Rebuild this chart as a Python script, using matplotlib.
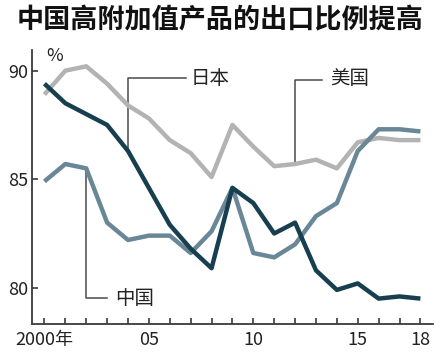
import matplotlib
matplotlib.use("Agg")
import matplotlib.pyplot as plt
from matplotlib import font_manager

plt.rcParams['font.family'] = ['Noto Sans CJK SC', 'DejaVu Sans']
names = sorted({f.name for f in font_manager.fontManager.ttflist})
print([n for n in names if 'Narrow' in n or 'Liberation' in n])

years = list(range(2000, 2019))
japan = [89.4, 88.5, 88.0, 87.5, 86.3, 84.6, 82.9, 81.8, 80.9, 84.6,
         83.9, 82.5, 83.0, 80.8, 79.9, 80.2, 79.5, 79.6, 79.5]
usa = [88.9, 90.0, 90.2, 89.4, 88.4, 87.8, 86.8, 86.2, 85.1, 87.5,
       86.5, 85.6, 85.7, 85.9, 85.5, 86.7, 86.9, 86.8, 86.8]
china = [84.9, 85.7, 85.5, 83.0, 82.2, 82.4, 82.4, 81.6, 82.6, 84.6,
         81.6, 81.4, 82.0, 83.3, 83.9, 86.3, 87.3, 87.3, 87.2]

tick_pos = [2000, 2005, 2010, 2015, 2018]
tick_lab = ['2000年', '05', '10', '15', '18']

fig = plt.figure(figsize=(4.4, 3.6), dpi=100)
ax = fig.add_axes([0.073, 0.1, 0.911, 0.761])

axis_col = '#3a3a3a'
lead_col = '#4a4a4a'

# leader lines for the labels
ax.plot([2004, 2004, 2006.8], [japan[4], 89.66, 89.66], color=lead_col, lw=1.1, zorder=1)
ax.plot([2012, 2012, 2013.3], [usa[12], 89.57, 89.57], color=lead_col, lw=1.1, zorder=1)
ax.plot([2002, 2002, 2003.0], [china[2], 79.51, 79.51], color=lead_col, lw=1.1, zorder=1)

lab_font = dict(fontsize=14, va='center', ha='left', color='#222222')
ax.text(2007.0, 89.66, '日本', **lab_font)
ax.text(2013.7, 89.62, '美国', **lab_font)
ax.text(2003.4, 79.51, '中国', **lab_font)

ax.plot(years, usa, color='#b3b3b3', lw=3.2, zorder=2, solid_capstyle='butt')
ax.plot(years, china, color='#6a8797', lw=3.2, zorder=3, solid_capstyle='butt')
ax.plot(years, japan, color='#173f4f', lw=3.2, zorder=4, solid_capstyle='butt')

ax.set_xlim(1999.41, 2018.6)
ax.set_ylim(78.33, 90.95)

for s in ['top', 'right']:
    ax.spines[s].set_visible(False)
for s in ['left', 'bottom']:
    ax.spines[s].set_color(axis_col)
    ax.spines[s].set_linewidth(1.3)

ax.set_yticks([80, 85, 90])
ax.set_yticklabels(['80', '85', '90'])
ax.set_xticks(years, minor=True)
ax.set_xticks(tick_pos)
ax.set_xticklabels(tick_lab)
ax.tick_params(axis='both', which='both', direction='in', color=axis_col,
               width=1.2, labelsize=13, labelcolor='#222222')
ax.tick_params(axis='x', which='both', length=4, pad=5)
ax.tick_params(axis='y', length=4, pad=3)

fig.text(0.5, 0.944, '中国高附加值产品的出口比例提高', ha='center', va='center',
         fontsize=19.5, fontweight='bold', color='#111111')
fig.text(0.105, 0.845, '%', ha='left', va='center', fontsize=13, color='#222222')

fig.savefig('out.png', dpi=100)
